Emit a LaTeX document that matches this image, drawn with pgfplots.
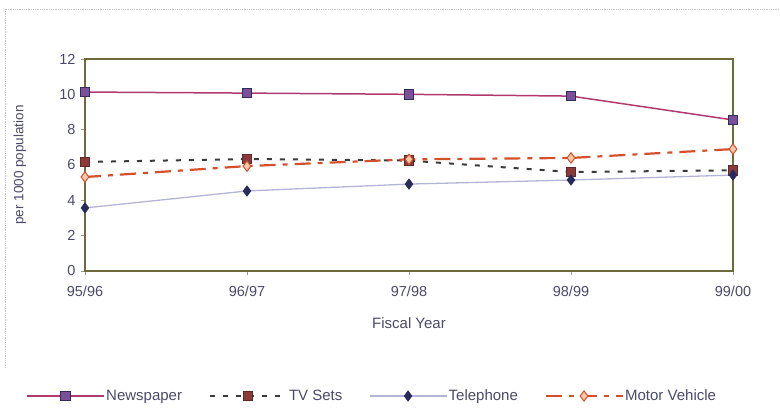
\documentclass[border=0pt]{standalone}
\usepackage{pgfplots}
\pgfplotsset{compat=1.18}
\usepackage{fontspec}
\setmainfont{Liberation Sans}

\definecolor{framec}{HTML}{6E6A3C}
\definecolor{textc}{HTML}{4A4A6A}
\definecolor{newsline}{HTML}{B03A6E}
\definecolor{newsfill}{HTML}{7B4F9A}
\definecolor{navyc}{HTML}{2E2E5E}
\definecolor{tvline}{HTML}{3A3A3A}
\definecolor{tvfill}{HTML}{8B3A3A}
\definecolor{telline}{HTML}{B4B4D6}
\definecolor{telfill}{HTML}{2A2A5A}
\definecolor{mvline}{HTML}{D4502A}
\definecolor{mvfill}{HTML}{F6C8A8}

\begin{document}
\begin{tikzpicture}[x=1pt,y=1pt]
\useasboundingbox (0,0) rectangle (780,408);
% faint outer frame of the chart area
\draw[black!22, densely dotted, line width=0.8pt] (5,40) -- (5,399) -- (780,399);
\begin{axis}[
  at={(85pt,137pt)}, anchor=south west,
  scale only axis, width=648pt, height=212pt,
  xmin=0, xmax=4, ymin=0, ymax=12,
  xtick={0,1,2,3,4},
  xticklabels={95/96,96/97,97/98,98/99,99/00},
  ytick={0,2,...,12},
  xtick pos=bottom, ytick pos=left,
  tick align=outside, major tick length=4pt,
  tick style={black!40, line width=0.6pt},
  axis line style={framec, line width=1.8pt},
  /pgf/number format/assume math mode=true,
  ticklabel style={font=\fontsize{14.5}{16}\selectfont, text=textc},
  yticklabel style={xshift=-2pt},
  xticklabel style={yshift=-7pt},
  every axis x label/.style={at={(axis description cs:0.5,-0.2453)}, anchor=center,
    font=\fontsize{15}{17}\selectfont, text=textc},
  every axis y label/.style={at={(axis description cs:-0.1003,0.5)}, anchor=center, rotate=90,
    font=\fontsize{13.5}{15}\selectfont, text=textc},
  xlabel={Fiscal Year},
  ylabel={per 1000 population},
  clip=false,
  legend columns=4,
  legend style={at={(axis description cs:-0.0957,-0.5896)}, anchor=west,
    draw=none, fill=none, font=\fontsize{15}{17}\selectfont, text=textc,
    nodes={inner sep=1.5pt},
    /tikz/every even column/.append style={column sep=25pt}},
  legend image code/.code={
    \draw[mark repeat=2, mark phase=2, #1]
      plot coordinates {(0pt,0pt) (38.5pt,0pt) (77pt,0pt)};},
]
\addplot[newsline, line width=1.5pt, mark=square*,
  mark options={solid, fill=newsfill, draw=navyc, line width=1pt}, mark size=4.8pt]
  coordinates {(0,10.13) (1,10.07) (2,10.0) (3,9.9) (4,8.55)};
\addlegendentry{Newspaper}

\addplot[tvline, line width=2pt, dash pattern=on 5pt off 8pt, mark=square*,
  mark options={solid, fill=tvfill, draw=tvfill!70!black, line width=0.8pt}, mark size=4.8pt]
  coordinates {(0,6.17) (1,6.34) (2,6.25) (3,5.6) (4,5.7)};
\addlegendentry{TV Sets}

\addplot[telline, line width=1.3pt, mark=diamond*,
  mark options={solid, fill=telfill, draw=telfill, line width=0.6pt}, mark size=5.2pt]
  coordinates {(0,3.57) (1,4.53) (2,4.92) (3,5.15) (4,5.43)};
\addlegendentry{Telephone}

\addplot[mvline, line width=2.2pt, dash pattern=on 16pt off 7pt on 5pt off 7pt, mark=diamond*,
  mark options={solid, fill=mvfill, draw=mvline, line width=1pt}, mark size=5.2pt]
  coordinates {(0,5.32) (1,5.94) (2,6.32) (3,6.4) (4,6.9)};
\addlegendentry{Motor Vehicle}
\end{axis}
\end{tikzpicture}
\end{document}
